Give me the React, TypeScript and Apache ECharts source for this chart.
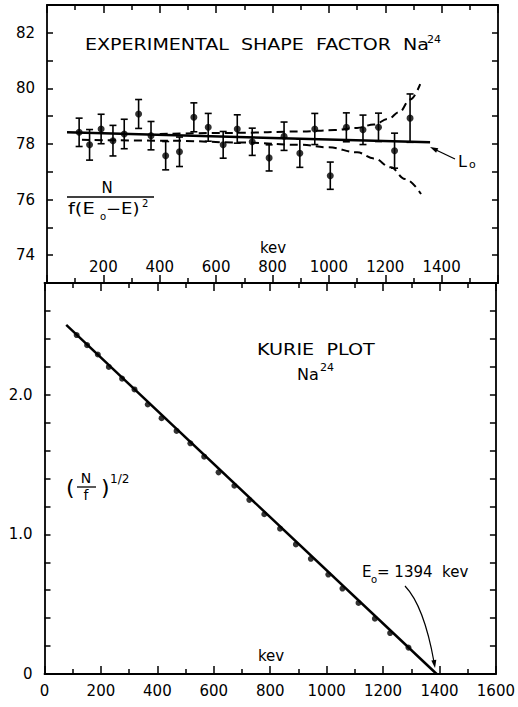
import React, { useEffect, useRef } from 'react';
import * as echarts from 'echarts';

// ---- Data ----
const shapeEnergy = [114, 151, 192, 234, 274, 325, 369, 421, 470, 521, 572, 625, 675, 728, 788, 841, 897, 950, 1005, 1062, 1121, 1176, 1233, 1288];
const shapeValue = [78.42, 77.97, 78.54, 78.12, 78.36, 79.08, 78.3, 77.58, 77.72, 78.96, 78.6, 77.97, 78.54, 78.08, 77.5, 78.28, 77.67, 78.54, 76.86, 78.6, 78.51, 78.6, 77.76, 78.93];
const shapeError = [0.51, 0.55, 0.53, 0.55, 0.53, 0.52, 0.51, 0.51, 0.53, 0.52, 0.5, 0.48, 0.51, 0.49, 0.47, 0.51, 0.51, 0.56, 0.49, 0.52, 0.53, 0.51, 0.63, 0.87];
const l0Line = [[71, 78.42], [1359, 78.06]];
const upperDashed = [[400, 78.36], [667, 78.4], [900, 78.45], [1020, 78.5], [1100, 78.58], [1160, 78.7], [1210, 78.9], [1250, 79.15], [1288, 79.6], [1324, 80.15]];
const lowerDashed = [[124, 78.15], [430, 78.12], [700, 78.05], [900, 77.97], [1000, 77.88], [1100, 77.7], [1160, 77.48], [1220, 77.16], [1270, 76.74], [1327, 76.2]];

const kurieEnergy = [114, 151, 189, 228, 275, 319, 366, 415, 468, 517, 566, 617, 673, 726, 779, 835, 891, 944, 1006, 1056, 1113, 1171, 1225, 1290];
const kurieValue = [2.427, 2.355, 2.288, 2.199, 2.115, 2.038, 1.93, 1.832, 1.741, 1.652, 1.556, 1.444, 1.348, 1.247, 1.144, 1.041, 0.928, 0.825, 0.712, 0.612, 0.509, 0.396, 0.293, 0.189];
const kurieFit = [[77, 2.5], [1390, 0]];

const topXTickLabels = [200, 400, 600, 800, 1000, 1200, 1400];
const topYTickLabels = [74, 76, 78, 80, 82];
const bottomXTickLabels = [0, 200, 400, 600, 800, 1000, 1200, 1400, 1600];
const bottomYTickLabels = [0, 1, 2];

const FONT = 'DejaVu Sans';
const BLACK = '#000';

const lineStyle = { color: BLACK, width: 1.8 };

function xAxisDef(gridIndex: number, position: string, labels: number[] | null, inside: boolean, margin: number) {
  return {
    type: 'value',
    gridIndex,
    position,
    min: 0,
    max: 1600,
    interval: 200,
    axisLine: { show: true, onZero: false, lineStyle },
    axisTick: { show: true, inside: true, length: 8, lineStyle: { color: BLACK, width: 1.5 } },
    minorTick: { show: true, splitNumber: 2, length: 5, lineStyle: { color: BLACK, width: 1.5 } },
    splitLine: { show: false },
    axisLabel: labels
      ? {
          show: true,
          inside,
          margin,
          color: BLACK,
          fontFamily: FONT,
          fontSize: 15,
          formatter: (v: number) => (labels.includes(Math.round(v)) ? String(Math.round(v)) : ''),
        }
      : { show: false },
  };
}

function yAxisTop(position: string, showLabels: boolean) {
  return {
    type: 'value',
    gridIndex: 0,
    position,
    min: 73,
    max: 83,
    interval: 1,
    axisLine: { show: true, onZero: false, lineStyle },
    axisTick: { show: true, inside: true, length: 6, lineStyle: { color: BLACK, width: 1.5 } },
    splitLine: { show: false },
    axisLabel: showLabels
      ? {
          show: true,
          margin: 12,
          color: BLACK,
          fontFamily: FONT,
          fontSize: 15,
          formatter: (v: number) => (topYTickLabels.includes(Math.round(v)) ? String(Math.round(v)) : ''),
        }
      : { show: false },
  };
}

function yAxisBottom(position: string, showLabels: boolean) {
  return {
    type: 'value',
    gridIndex: 1,
    position,
    min: 0,
    max: 2.8,
    interval: 0.2,
    axisLine: { show: true, onZero: false, lineStyle },
    axisTick: { show: true, inside: true, length: 6, lineStyle: { color: BLACK, width: 1.5 } },
    splitLine: { show: false },
    axisLabel: showLabels
      ? {
          show: true,
          margin: 12,
          color: BLACK,
          fontFamily: FONT,
          fontSize: 15,
          formatter: (v: number) => {
            const r = Math.round(v);
            if (Math.abs(v - r) > 1e-6 || !bottomYTickLabels.includes(r)) return '';
            return r === 0 ? '0' : r.toFixed(1);
          },
        }
      : { show: false },
  };
}

function txt(text: string, x: number, y: number, fontSize: number, opts: any = {}) {
  return {
    type: 'text',
    x,
    y,
    scaleX: opts.scaleX ?? 1,
    style: {
      text,
      fill: BLACK,
      fontFamily: FONT,
      fontSize,
      align: opts.align ?? 'left',
      verticalAlign: 'middle',
    },
  };
}

export default function App() {
  const ref = useRef<HTMLDivElement>(null);

  useEffect(() => {
    if (!ref.current) return;
    const chart = echarts.init(ref.current, undefined, { renderer: 'svg' });

    const errorData = shapeEnergy.map((e, i) => [e, shapeValue[i] - shapeError[i], shapeValue[i] + shapeError[i]]);

    const option: any = {
      animation: false,
      backgroundColor: '#fff',
      grid: [
        { left: 47, top: 5, width: 451, height: 278 },
        { left: 44.5, top: 283, width: 452.5, height: 391 },
      ],
      xAxis: [
        xAxisDef(0, 'bottom', topXTickLabels, true, 9),
        xAxisDef(0, 'top', null, true, 0),
        xAxisDef(1, 'bottom', bottomXTickLabels, false, 9),
        xAxisDef(1, 'top', null, true, 0),
      ],
      yAxis: [yAxisTop('left', true), yAxisTop('right', false), yAxisBottom('left', true), yAxisBottom('right', false)],
      series: [
        {
          type: 'line',
          xAxisIndex: 0,
          yAxisIndex: 0,
          data: l0Line,
          symbol: 'none',
          lineStyle: { color: BLACK, width: 2.5 },
        },
        {
          type: 'line',
          xAxisIndex: 0,
          yAxisIndex: 0,
          data: upperDashed,
          symbol: 'none',
          smooth: 0.4,
          smoothMonotone: 'x',
          lineStyle: { color: BLACK, width: 2, type: [8, 5] },
        },
        {
          type: 'line',
          xAxisIndex: 0,
          yAxisIndex: 0,
          data: lowerDashed,
          symbol: 'none',
          smooth: 0.4,
          smoothMonotone: 'x',
          lineStyle: { color: BLACK, width: 2, type: [8, 5] },
        },
        {
          type: 'custom',
          xAxisIndex: 0,
          yAxisIndex: 0,
          data: errorData,
          encode: { x: 0, y: [1, 2] },
          renderItem: (params: any, api: any) => {
            const x = api.value(0);
            const lo = api.coord([x, api.value(1)]);
            const hi = api.coord([x, api.value(2)]);
            const c = 3.5;
            const st = { stroke: BLACK, lineWidth: 1.6 };
            return {
              type: 'group',
              children: [
                { type: 'line', shape: { x1: lo[0], y1: lo[1], x2: hi[0], y2: hi[1] }, style: st },
                { type: 'line', shape: { x1: hi[0] - c, y1: hi[1], x2: hi[0] + c, y2: hi[1] }, style: st },
                { type: 'line', shape: { x1: lo[0] - c, y1: lo[1], x2: lo[0] + c, y2: lo[1] }, style: st },
              ],
            };
          },
        },
        {
          type: 'scatter',
          xAxisIndex: 0,
          yAxisIndex: 0,
          data: shapeEnergy.map((e, i) => [e, shapeValue[i]]),
          symbol: 'circle',
          symbolSize: 7,
          itemStyle: { color: BLACK },
        },
        {
          type: 'line',
          xAxisIndex: 2,
          yAxisIndex: 2,
          data: kurieFit,
          symbol: 'none',
          lineStyle: { color: BLACK, width: 2.5 },
        },
        {
          type: 'scatter',
          xAxisIndex: 2,
          yAxisIndex: 2,
          data: kurieEnergy.map((e, i) => [e, kurieValue[i]]),
          symbol: 'circle',
          symbolSize: 6,
          itemStyle: { color: BLACK },
        },
      ],
      graphic: [
        // Top panel texts
        txt('EXPERIMENTAL  SHAPE  FACTOR  Na', 85, 45, 16, { scaleX: 1.19 }),
        txt('24', 427, 39, 11),
        txt('N', 107, 188, 15, { align: 'center' }),
        { type: 'line', shape: { x1: 67, y1: 197, x2: 154, y2: 197 }, style: { stroke: BLACK, lineWidth: 1.5 } },
        txt('f(E', 68, 209, 15, { scaleX: 1.3 }),
        txt('o', 100, 216, 10),
        txt('−E)', 106, 209, 15, { scaleX: 1.2 }),
        txt('2', 142, 203, 10),
        txt('kev', 273, 248, 15, { align: 'center' }),
        txt('L', 458, 161, 16),
        txt('o', 469, 164, 11),
        { type: 'line', shape: { x1: 455, y1: 159, x2: 434, y2: 149 }, style: { stroke: BLACK, lineWidth: 1.3 } },
        { type: 'polygon', shape: { points: [[430, 147], [436.1, 152.7], [438.3, 148.2]] }, style: { fill: BLACK } },
        // Bottom panel texts
        txt('KURIE  PLOT', 257, 350, 16, { scaleX: 1.2 }),
        txt('Na', 297, 374, 16),
        txt('24', 320, 367, 11),
        txt('(', 66, 487, 22),
        txt('N', 86, 478, 14, { align: 'center' }),
        { type: 'line', shape: { x1: 77, y1: 487, x2: 96, y2: 487 }, style: { stroke: BLACK, lineWidth: 1.3 } },
        txt('f', 86, 495, 14, { align: 'center' }),
        txt(')', 101, 487, 22),
        txt('1/2', 110, 479, 12),
        txt('kev', 271, 656, 15, { align: 'center' }),
        txt('E', 362, 572, 15),
        txt('o', 371, 579, 10),
        txt('= 1394  kev', 377, 572, 15),
        {
          type: 'bezierCurve',
          shape: { x1: 405, y1: 586, x2: 434, y2: 662, cpx1: 424, cpy1: 606 },
          style: { stroke: BLACK, lineWidth: 1.2, fill: 'none' },
        },
        { type: 'polygon', shape: { points: [[435, 668], [436.3, 659.7], [431.3, 660.5]] }, style: { fill: BLACK } },
      ],
    };

    chart.setOption(option);
    return () => chart.dispose();
  }, []);

  return <div ref={ref} style={{ position: 'fixed', left: 0, top: 0, width: 518, height: 707 }} />;
}
